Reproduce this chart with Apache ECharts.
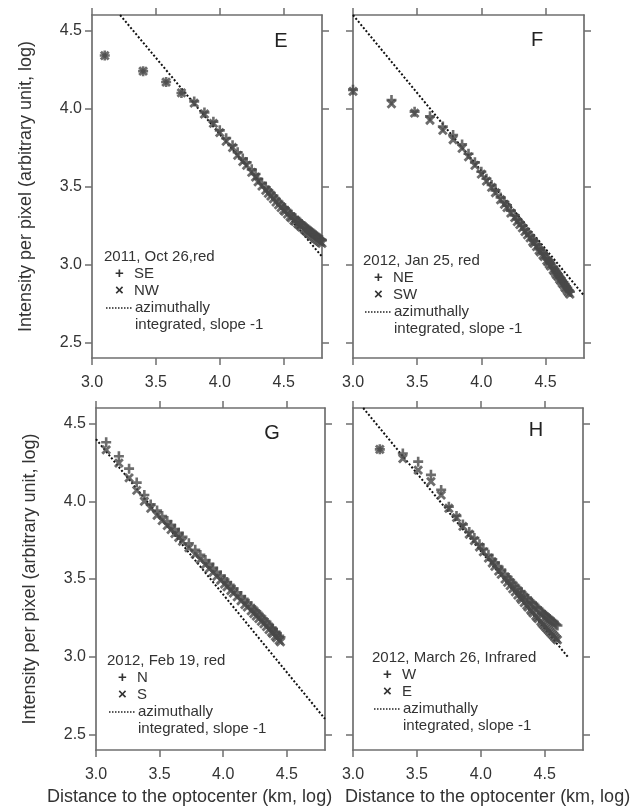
<!DOCTYPE html>
<html><head><meta charset="utf-8">
<script src="https://cdn.jsdelivr.net/npm/echarts@6/dist/echarts.min.js"></script>
<style>html,body{margin:0;padding:0;background:#fff}#c{width:630px;height:810px}</style>
</head><body><div id="c"></div>
<script>
// ---------- data ----------
const xTicks = ['3.0','3.5','4.0','4.5'];
const yTicks = ['2.5','3.0','3.5','4.0','4.5'];
const panelLetters = ['E','F','G','H'];
const legendTitles = ['2011, Oct 26,red','2012, Jan 25, red','2012, Feb 19, red','2012, March 26, Infrared'];
const plusNames = ['SE','NE','N','W'];
const crossNames = ['NW','SW','S','E'];
const lineLabel1 = 'azimuthally';
const lineLabel2 = 'integrated, slope -1';
const yTitle = 'Intensity per pixel (arbitrary unit, log)';
const xTitle = 'Distance to the optocenter (km, log)';

// Panel E
const E_x = [3.10,3.40,3.58,3.70,3.80,3.88,3.95,4.00,4.05,4.10,4.14,4.18,4.21,4.25,4.28,4.30,4.33,4.36,4.38,4.40,4.42,4.44,4.46,4.48,4.50,4.51,4.53,4.55,4.56,4.58,4.59,4.61,4.62,4.63,4.64,4.66,4.67,4.68,4.69,4.70,4.71,4.72,4.73,4.74,4.75,4.76,4.77,4.78,4.79,4.80];
const E_SE = [4.34,4.24,4.17,4.10,4.045,3.975,3.915,3.86,3.81,3.765,3.72,3.68,3.655,3.61,3.58,3.55,3.523,3.495,3.476,3.458,3.44,3.42,3.402,3.384,3.368,3.36,3.343,3.327,3.319,3.303,3.296,3.282,3.275,3.267,3.26,3.246,3.239,3.232,3.226,3.22,3.213,3.207,3.20,3.194,3.188,3.181,3.175,3.168,3.162,3.156];
const E_NW = [4.34,4.24,4.17,4.10,4.035,3.965,3.905,3.845,3.79,3.75,3.70,3.66,3.635,3.59,3.56,3.53,3.503,3.475,3.456,3.438,3.42,3.40,3.382,3.364,3.348,3.34,3.323,3.307,3.299,3.283,3.276,3.262,3.255,3.247,3.24,3.226,3.219,3.212,3.206,3.20,3.193,3.187,3.18,3.174,3.168,3.161,3.155,3.148,3.142,3.136];
const E_lineX = [3.22, 4.80];
const E_lineY = [4.60, 3.05];

// Panel F
const F_x = [3.00,3.30,3.48,3.60,3.70,3.78,3.85,3.90,3.95,4.00,4.04,4.08,4.11,4.15,4.18,4.20,4.23,4.26,4.28,4.30,4.32,4.34,4.36,4.38,4.40,4.41,4.43,4.45,4.46,4.48,4.49,4.51,4.52,4.53,4.54,4.56,4.57,4.58,4.59,4.60,4.61,4.62,4.63,4.64,4.65,4.66,4.67,4.68,4.69];
const F_NE = [4.12,4.055,3.98,3.95,3.885,3.83,3.77,3.71,3.655,3.595,3.55,3.51,3.475,3.43,3.40,3.38,3.345,3.315,3.29,3.27,3.25,3.225,3.205,3.185,3.16,3.15,3.13,3.105,3.095,3.075,3.065,3.04,3.03,3.02,3.005,2.985,2.97,2.96,2.945,2.935,2.92,2.91,2.895,2.885,2.875,2.86,2.85,2.835,2.825];
const F_SW = [4.11,4.03,3.97,3.925,3.86,3.80,3.745,3.69,3.635,3.58,3.535,3.495,3.46,3.415,3.385,3.365,3.33,3.30,3.275,3.255,3.235,3.21,3.19,3.17,3.145,3.135,3.115,3.09,3.08,3.06,3.05,3.025,3.015,3.00,2.99,2.965,2.955,2.94,2.93,2.92,2.905,2.895,2.88,2.87,2.855,2.845,2.83,2.82,2.81];
const F_lineX = [3.00, 4.80];
const F_lineY = [4.60, 2.80];

// Panel G
const G_x = [3.08,3.18,3.26,3.32,3.38,3.43,3.48,3.52,3.56,3.59,3.62,3.65,3.68,3.73,3.78,3.82,3.86,3.89,3.92,3.95,3.98,4.01,4.03,4.06,4.08,4.11,4.14,4.17,4.19,4.22,4.24,4.26,4.28,4.30,4.32,4.34,4.36,4.38,4.39,4.41,4.42,4.44,4.45];
const G_N = [4.38,4.29,4.21,4.12,4.04,3.98,3.94,3.905,3.873,3.848,3.822,3.797,3.772,3.73,3.688,3.655,3.622,3.597,3.572,3.547,3.522,3.497,3.48,3.455,3.439,3.415,3.39,3.365,3.349,3.325,3.308,3.292,3.275,3.258,3.241,3.224,3.205,3.188,3.179,3.161,3.152,3.135,3.125];
const G_S = [4.33,4.245,4.15,4.07,4.00,3.955,3.91,3.875,3.843,3.818,3.792,3.767,3.742,3.70,3.658,3.625,3.592,3.567,3.542,3.517,3.492,3.467,3.45,3.425,3.409,3.385,3.36,3.335,3.319,3.295,3.278,3.262,3.245,3.228,3.211,3.194,3.175,3.158,3.149,3.131,3.122,3.105,3.095];
const G_lineX = [3.00, 4.80];
const G_lineY = [4.40, 2.60];

// Panel H
const H_x = [3.21,3.39,3.51,3.61,3.69,3.75,3.81,3.86,3.91,3.95,3.99,4.02,4.06,4.09,4.11,4.14,4.16,4.19,4.21,4.23,4.25,4.27,4.29,4.31,4.32,4.34,4.36,4.37,4.39,4.40,4.41,4.43,4.44,4.45,4.47,4.48,4.49,4.50,4.51,4.52,4.53,4.54,4.55,4.56,4.57,4.58,4.59,4.60];
const H_W = [4.334,4.307,4.255,4.17,4.073,3.965,3.905,3.851,3.802,3.763,3.724,3.695,3.656,3.627,3.608,3.579,3.56,3.531,3.512,3.493,3.474,3.457,3.439,3.422,3.413,3.396,3.38,3.371,3.355,3.348,3.339,3.323,3.316,3.309,3.293,3.284,3.277,3.27,3.263,3.256,3.249,3.242,3.235,3.228,3.221,3.214,3.207,3.201];
const H_E = [4.334,4.275,4.20,4.126,4.04,3.955,3.895,3.839,3.788,3.747,3.706,3.675,3.634,3.603,3.582,3.551,3.53,3.499,3.478,3.457,3.436,3.417,3.397,3.378,3.367,3.348,3.33,3.319,3.301,3.292,3.281,3.263,3.254,3.245,3.227,3.216,3.207,3.198,3.189,3.18,3.171,3.162,3.153,3.144,3.135,3.126,3.117,3.109];
const H_lineX = [3.08, 4.68];
const H_lineY = [4.60, 3.00];

// ---------- build ----------
const panels = [
  {x:E_x, p:E_SE, c:E_NW, lx:E_lineX, ly:E_lineY},
  {x:F_x, p:F_NE, c:F_SW, lx:F_lineX, ly:F_lineY},
  {x:G_x, p:G_N,  c:G_S,  lx:G_lineX, ly:G_lineY},
  {x:H_x, p:H_W,  c:H_E,  lx:H_lineX, ly:H_lineY}
];
const FONT = '"Liberation Sans", Arial, Helvetica, sans-serif';
const AX = '#6f6f6f', TXT = '#333', MK = '#484848';
const grids = [
  {left:92,  top:15,  width:230, height:343},
  {left:353, top:15,  width:231, height:343},
  {left:96,  top:408, width:229, height:342},
  {left:353, top:408, width:230, height:342}
];
const xVals = xTicks.map(Number), yVals = yTicks.map(Number);
const PLUS = 'path://M0,3.7H10V6.3H0Z M3.7,0H6.3V10H3.7Z';
const xAxes = [], yAxes = [], series = [], graphic = [];

function axisBase(showLabel){
  return {
    axisLine:{show:true, onZero:false, lineStyle:{color:AX, width:1.7}},
    axisTick:{show:true, inside:false, length:7, lineStyle:{color:AX, width:1.5}},
    splitLine:{show:false},
    axisLabel:{show:showLabel, color:TXT, fontSize:16, fontFamily:FONT}
  };
}
panels.forEach((pn, i) => {
  const xb = axisBase(true);
  xAxes.push(Object.assign(xb, {type:'value', gridIndex:i, position:'bottom', min:3.0, max:4.8,
    axisTick:Object.assign(xb.axisTick, {customValues:xVals}),
    axisLabel:Object.assign(xb.axisLabel, {customValues:xVals, margin:17, formatter:v=>v.toFixed(1)})}));
  const xt = axisBase(false);
  xAxes.push(Object.assign(xt, {type:'value', gridIndex:i, position:'top', min:3.0, max:4.8,
    axisTick:Object.assign(xt.axisTick, {customValues:xVals})}));
  const showY = (i % 2 === 0);
  const yl = axisBase(showY);
  const yAx = Object.assign(yl, {type:'value', gridIndex:i, position:'left', min:2.4, max:4.6,
    axisTick:Object.assign(yl.axisTick, {customValues:yVals}),
    axisLabel:Object.assign(yl.axisLabel, {customValues:yVals, margin:10, formatter:v=>v.toFixed(1)})});
  if (showY) {
    Object.assign(yAx, {name:yTitle, nameLocation:'middle', nameGap:57, nameRotate:90,
      nameTextStyle:{color:TXT, fontSize:18, fontFamily:FONT}});
  }
  yAxes.push(yAx);
  const yr = axisBase(false);
  yAxes.push(Object.assign(yr, {type:'value', gridIndex:i, position:'right', min:2.4, max:4.6,
    axisTick:Object.assign(yr.axisTick, {customValues:yVals})}));

  series.push({
    type:'line', name:lineLabel1 + ' ' + lineLabel2 + ' ' + panelLetters[i],
    xAxisIndex:2*i, yAxisIndex:2*i, showSymbol:false, silent:true, z:1,
    data: pn.lx.map((v,k)=>[v, pn.ly[k]]),
    lineStyle:{color:'#111', width:2, type:[2,2]}
  });
  series.push({
    type:'scatter', name:crossNames[i], xAxisIndex:2*i, yAxisIndex:2*i, z:3,
    symbol:PLUS, symbolSize:11, symbolRotate:45,
    data: pn.x.map((v,k)=>[v, pn.c[k]]),
    itemStyle:{color:MK}
  });
  series.push({
    type:'scatter', name:plusNames[i], xAxisIndex:2*i, yAxisIndex:2*i, z:4,
    symbol:PLUS, symbolSize:10,
    data: pn.x.map((v,k)=>[v, pn.p[k]]),
    itemStyle:{color:MK}
  });
});

// panel letters
const letterPos = [[281,41],[537,40],[272,433],[536,430]];
letterPos.forEach((p,i)=>graphic.push({type:'text', x:p[0], y:p[1],
  style:{text:panelLetters[i], fill:'#222', font:'20px ' + FONT, align:'center', verticalAlign:'middle'}}));

// legends
const legPos = [[104,257],[363,261],[107,661],[372,658]];
legPos.forEach((p,i)=>{
  const [lx, ly] = p;
  const st = (t, x, y) => ({type:'text', x, y, style:{text:t, fill:TXT, font:'15px ' + FONT, align:'left', verticalAlign:'middle'}});
  graphic.push(st(legendTitles[i], lx, ly));
  graphic.push({type:'text', x:lx+15.5, y:ly+17, style:{text:'+', fill:TXT, font:'bold 15px ' + FONT, align:'center', verticalAlign:'middle'}});
  graphic.push(st(plusNames[i], lx+30, ly+17));
  graphic.push({type:'text', x:lx+15.5, y:ly+33.5, style:{text:'×', fill:TXT, font:'bold 15px ' + FONT, align:'center', verticalAlign:'middle'}});
  graphic.push(st(crossNames[i], lx+30, ly+33.5));
  graphic.push({type:'line', shape:{x1:lx+2, y1:ly+51, x2:lx+29, y2:ly+51},
    style:{stroke:'#222', lineWidth:1.5, lineDash:[1.5,1.5]}});
  graphic.push(st(lineLabel1, lx+31, ly+51));
  graphic.push(st(lineLabel2, lx+31, ly+68));
});

// x-axis titles
[[47,797],[345,797]].forEach(p=>graphic.push({type:'text', x:p[0], y:p[1],
  style:{text:xTitle, fill:TXT, font:'18px ' + FONT, align:'left', verticalAlign:'middle'}}));

const chart = echarts.init(document.getElementById('c'), null, {renderer:'canvas'});
chart.setOption({
  animation:false,
  backgroundColor:'#fff',
  grid:grids,
  xAxis:xAxes,
  yAxis:yAxes,
  series:series,
  graphic:graphic
});
</script>
</body></html>
